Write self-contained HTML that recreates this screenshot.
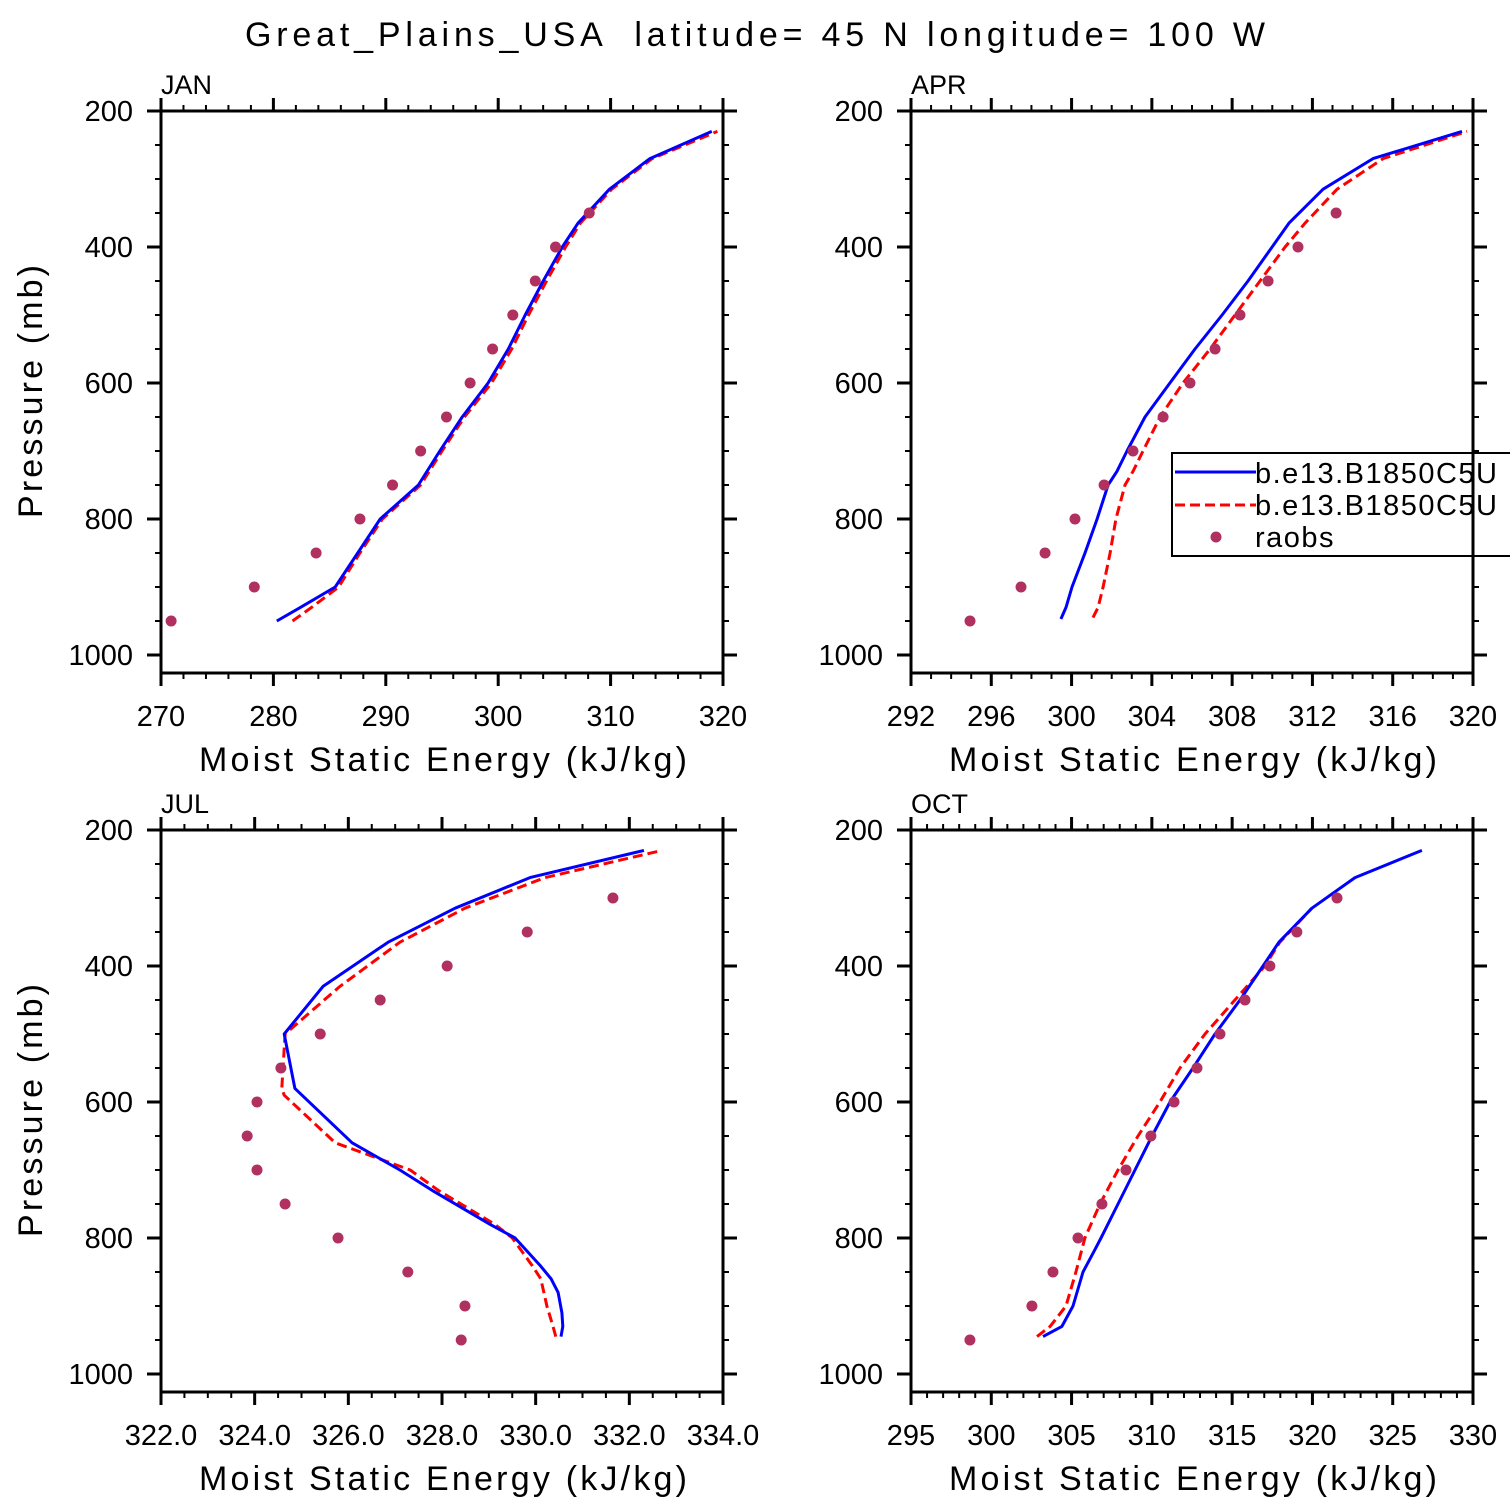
<!DOCTYPE html>
<html><head><meta charset="utf-8"><style>
html,body{margin:0;padding:0;background:#fff;}
svg{display:block;font-family:"Liberation Sans",sans-serif;}
</style></head><body>
<svg id="fig" width="1510" height="1510" viewBox="0 0 1510 1510" xmlns="http://www.w3.org/2000/svg">
<text x="245" y="46" font-size="34" textLength="1020" lengthAdjust="spacing" xml:space="preserve">Great_Plains_USA  latitude= 45 N longitude= 100 W</text>
</svg>
<script>
// ---- data ----
const janBlueP=[950,930,900,850,800,750,700,650,600,550,500,450,400,365,315,270,230];
const janBlueV=[280.3,282.4,285.5,287.5,289.5,292.9,294.8,296.8,299.1,300.9,302.4,304.0,305.7,307.1,309.9,313.5,319.0];
const janRedP=[950,930,900,850,800,750,700,650,600,550,500,450,400,365,315,270,230];
const janRedV=[281.7,283.4,285.8,287.7,289.7,293.1,295.0,297.0,299.4,301.2,302.7,304.3,306.0,307.3,310.1,313.7,319.5];
const janObsP=[950,900,850,800,750,700,650,600,550,500,450,400,350];
const janObsV=[270.9,278.3,283.8,287.7,290.6,293.1,295.4,297.5,299.5,301.3,303.3,305.1,308.1];

const aprBlueP=[947,930,900,850,800,750,730,700,650,600,550,500,450,400,365,315,270,230];
const aprBlueV=[299.47,299.72,300.02,300.67,301.27,301.82,302.26,302.76,303.66,304.90,306.15,307.50,308.79,309.99,310.83,312.53,315.02,319.45];
const aprRedP=[945,930,900,850,800,750,730,700,650,600,550,500,450,400,365,315,270,230];
const aprRedV=[301.07,301.32,301.57,301.92,302.21,302.66,303.06,303.56,304.41,305.55,306.90,308.14,309.39,310.64,311.63,313.23,315.52,319.70];
const aprObsP=[950,900,850,800,750,700,650,600,550,500,450,400,350];
const aprObsV=[294.94,297.48,298.68,300.17,301.62,303.06,304.56,305.90,307.15,308.39,309.79,311.28,313.18];

const julBlueP=[945,930,910,880,860,840,800,780,730,700,660,580,500,430,365,315,270,230];
const julBlueV=[330.54,330.58,330.56,330.48,330.33,330.09,329.56,329.03,327.79,327.10,326.08,324.86,324.63,325.46,326.85,328.28,329.88,332.31];
const julRedP=[945,930,900,860,840,800,780,730,700,660,590,580,500,430,365,315,270,230];
const julRedV=[330.43,330.37,330.24,330.11,329.92,329.50,329.13,327.92,327.32,325.72,324.63,324.58,324.65,325.82,327.10,328.49,330.20,332.70];
const julObsP=[950,900,850,800,750,700,650,600,550,500,450,400,350,300];
const julObsV=[328.41,328.49,327.27,325.78,324.65,324.05,323.84,324.05,324.56,325.40,326.68,328.11,329.82,331.65];

const octBlueP=[945,930,900,850,820,800,750,700,650,600,550,500,450,400,365,315,270,230];
const octBlueV=[303.22,304.40,305.09,305.71,306.39,306.83,307.89,308.95,310.01,311.13,312.56,313.93,315.49,316.92,317.91,319.97,322.65,326.82];
const octRedP=[945,930,900,850,800,750,700,650,600,550,500,450,400,365,315];
const octRedV=[302.85,303.66,304.65,305.27,305.83,306.77,307.89,309.14,310.50,311.75,313.31,315.17,317.04,317.97,319.97];
const octObsP=[950,900,850,800,750,700,650,600,550,500,450,400,350,300];
const octObsV=[298.67,302.53,303.84,305.40,306.89,308.39,309.94,311.38,312.81,314.24,315.80,317.35,319.03,321.53];

const janTicks=[270,280,290,300,310,320];
const aprTicks=[292,296,300,304,308,312,316,320];
const julTicks=[322,324,326,328,330,332,334];
const octTicks=[295,300,305,310,315,320,325,330];
const pTicks=[200,400,600,800,1000];
const seriesNames=["b.e13.B1850C5U","b.e13.B1850C5U","raobs"];

const NS="http://www.w3.org/2000/svg";
const svg=document.getElementById('fig');
function mk(tag,attrs,parent){const e=document.createElementNS(NS,tag);for(const k in attrs)e.setAttribute(k,attrs[k]);(parent||svg).appendChild(e);return e;}

function panel(cfg){
  const g=mk('g',{});
  
  
  const L=cfg.x0,R=cfg.x0+562,T=cfg.y0,B=cfg.y0+562;
  const xs=v=>L+(v-cfg.xmin)/(cfg.xmax-cfg.xmin)*562;
  const ys=p=>T+(p-200)*0.68;
  const cid='clip-'+cfg.name;
  const cp=mk('clipPath',{id:cid},g);mk('rect',{x:L,y:T,width:562,height:562},cp);
  const pts=(P,V)=>P.map((p,i)=>xs(V[i]).toFixed(1)+','+ys(p).toFixed(1)).join(' ');
  const red=mk('polyline',{points:pts(cfg.rp,cfg.rv),fill:'none',stroke:'#ff0000','stroke-width':3,'stroke-dasharray':'10,5','stroke-linejoin':'round','clip-path':'url(#'+cid+')'},g);
  
  
  const blue=mk('polyline',{points:pts(cfg.bp,cfg.bv),fill:'none',stroke:'#0000ff','stroke-width':3,'stroke-linejoin':'round','clip-path':'url(#'+cid+')'},g);
  
  
  cfg.op.forEach((p,i)=>{
    const c=mk('circle',{cx:xs(cfg.ov[i]),cy:ys(p),r:5.5,fill:'#b03060'},g);
    
    
  });
  const fr=mk('rect',{x:L,y:T,width:562,height:562,fill:'none',stroke:'#000','stroke-width':3},g);
  
  
  const xt=cfg.xt, step=cfg.minor;
  for(let v=cfg.xmin;v<=cfg.xmax+1e-6;v+=step){
    const isMaj=xt.some(t=>Math.abs(t-v)<1e-6);
    const len=isMaj?13:6, x=xs(v);
    mk('line',{x1:x,y1:B,x2:x,y2:B+len,stroke:'#000','stroke-width':isMaj?3:2},g);
    mk('line',{x1:x,y1:T,x2:x,y2:T-len,stroke:'#000','stroke-width':isMaj?3:2},g);
  }
  xt.forEach(t=>{
    const tx=mk('text',{x:xs(t),y:B+53,'font-size':29,'text-anchor':'middle'},g);
    tx.textContent=cfg.fmt?t.toFixed(1):String(t);
    
    
  });
  for(let p=200;p<=1000;p+=50){
    const isMaj=p%200===0, len=isMaj?14:6, y=ys(p);
    mk('line',{x1:L,y1:y,x2:L-len,y2:y,stroke:'#000','stroke-width':isMaj?3:2},g);
    mk('line',{x1:R,y1:y,x2:R+len,y2:y,stroke:'#000','stroke-width':isMaj?3:2},g);
  }
  pTicks.forEach(p=>{
    const tx=mk('text',{x:L-28,y:ys(p)+10,'font-size':29,'text-anchor':'end'},g);
    tx.textContent=String(p);
    
    
  });
  const xl=mk('text',{x:L+38,y:B+98,'font-size':34,textLength:488,lengthAdjust:'spacing'},g);
  xl.textContent='Moist Static Energy (kJ/kg)';
  
  
  const tl=mk('text',{x:L,y:T-17,'font-size':27},g);
  tl.textContent=cfg.label;
  
  
  if(cfg.ylab){
    const yl=mk('text',{x:-126,y:0,'font-size':34,textLength:253,lengthAdjust:'spacing',transform:'translate(42,'+(T+281)+') rotate(-90)'},g);
    yl.textContent='Pressure (mb)';
    
    
  }
}
panel({name:'jan',label:'JAN',x0:161,y0:111,xmin:270,xmax:320,minor:2,xt:janTicks,bp:janBlueP,bv:janBlueV,rp:janRedP,rv:janRedV,op:janObsP,ov:janObsV,ylab:true});
panel({name:'apr',label:'APR',x0:911,y0:111,xmin:292,xmax:320,minor:1,xt:aprTicks,bp:aprBlueP,bv:aprBlueV,rp:aprRedP,rv:aprRedV,op:aprObsP,ov:aprObsV});
panel({name:'jul',label:'JUL',x0:161,y0:830,xmin:322,xmax:334,minor:0.5,xt:julTicks,fmt:true,bp:julBlueP,bv:julBlueV,rp:julRedP,rv:julRedV,op:julObsP,ov:julObsV,ylab:true});
panel({name:'oct',label:'OCT',x0:911,y0:830,xmin:295,xmax:330,minor:1,xt:octTicks,bp:octBlueP,bv:octBlueV,rp:octRedP,rv:octRedV,op:octObsP,ov:octObsV});

const lg=mk('g',{});


mk('rect',{x:1172,y:453,width:360,height:103,fill:'#fff',stroke:'#000','stroke-width':2},lg);
mk('line',{x1:1175,y1:472,x2:1256,y2:472,stroke:'#0000ff','stroke-width':3},lg);
mk('line',{x1:1175,y1:505,x2:1256,y2:505,stroke:'#ff0000','stroke-width':3,'stroke-dasharray':'10,5'},lg);
mk('circle',{cx:1216,cy:537,r:5.5,fill:'#b03060'},lg);
[[483,0],[515,1],[547,2]].forEach(([y,i])=>{
  const t=mk('text',{x:1255,y:y,'font-size':29,'letter-spacing':1.5},lg);
  t.textContent=seriesNames[i];
  
  
});
mk('line',{x1:1473,y1:440,x2:1473,y2:570,stroke:'#000','stroke-width':3},lg);
</script>
</body></html>
